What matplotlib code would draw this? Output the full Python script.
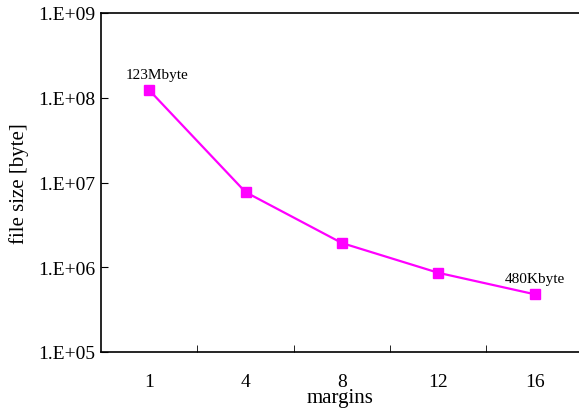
import matplotlib
matplotlib.use('Agg')
import matplotlib.pyplot as plt
import matplotlib.ticker as mticker
import numpy as np

# data
margins = ['1', '4', '8', '12', '16']
file_size = [1.23e8, 7.7e6, 1.93e6, 8.6e5, 4.8e5]
ytick_vals = [1e5, 1e6, 1e7, 1e8, 1e9]
ytick_labels = ['1.E+05', '1.E+06', '1.E+07', '1.E+08', '1.E+09']

plt.rcParams['font.family'] = ['Liberation Serif', 'DejaVu Serif']

fig = plt.figure(figsize=(5.79, 4.14), dpi=100)
ax = fig.add_axes([101/579, 1 - 353/414, 1 - 101/579, 339/414])

x = np.arange(len(margins))
ax.plot(x, file_size, color='#ff00ff', lw=1.6, marker='s', ms=7.5,
        markeredgecolor='#ff00ff')

ax.set_yscale('log')
ax.set_ylim(1e5, 1e9)
ax.set_xlim(-0.5, 4.46)
ax.yaxis.set_major_locator(mticker.FixedLocator(ytick_vals))
ax.yaxis.set_minor_locator(mticker.NullLocator())
ax.set_yticks(ytick_vals, ytick_labels)
ax.tick_params(axis='y', direction='in', length=5, labelsize=14, pad=4)

# category labels without ticks, boundary ticks between them
ax.set_xticks(x, margins)
ax.tick_params(axis='x', which='major', length=0, labelsize=14, pad=15)
ax.set_xticks(x[:-1] + 0.5, minor=True)
ax.tick_params(axis='x', which='minor', direction='in', length=5)

ax.spines['right'].set_visible(False)
for s in ['left', 'top', 'bottom']:
    ax.spines[s].set_linewidth(1.2)

ax.set_xlabel('margins', fontsize=15, labelpad=-1)
ax.set_ylabel('file size [byte]', fontsize=15, labelpad=7)

ax.annotate('123Mbyte', (x[0], file_size[0]), xytext=(6, 9),
            textcoords='offset points', ha='center', fontsize=11)
ax.annotate('480Kbyte', (x[-1], file_size[-1]), xytext=(0, 9),
            textcoords='offset points', ha='center', fontsize=11)

fig.savefig('out.png', dpi=100)
